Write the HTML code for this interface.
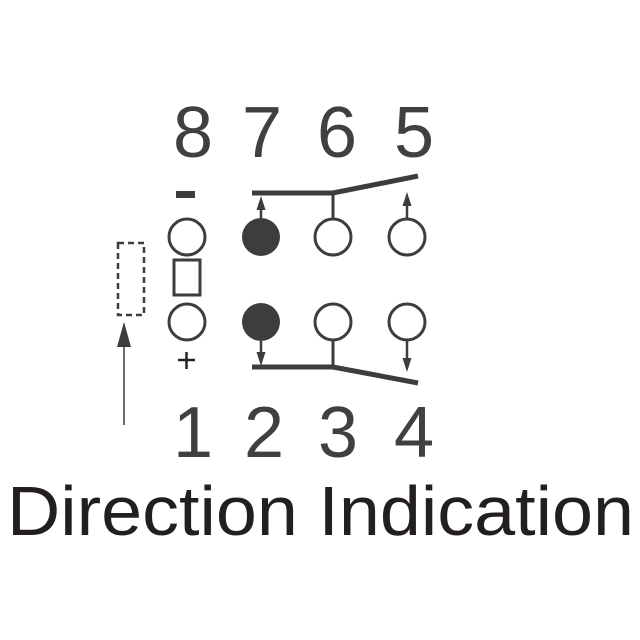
<!DOCTYPE html>
<html><head><style>html,body{margin:0;padding:0;background:#fff}svg{display:block}</style></head>
<body>
<svg width="640" height="640" viewBox="0 0 640 640" xmlns="http://www.w3.org/2000/svg">
<g font-family="Liberation Sans, sans-serif" font-size="72" fill="#404042" text-anchor="middle">
<text x="193" y="157">8</text><text x="262" y="157">7</text><text x="337" y="157">6</text><text x="414" y="157">5</text>
<text x="193" y="457">1</text><text x="264" y="457">2</text><text x="338" y="457">3</text><text x="414" y="457">4</text>
</g>
<text x="7" y="535" font-family="Liberation Sans, sans-serif" font-size="70" fill="#231f20" textLength="627" lengthAdjust="spacingAndGlyphs">Direction Indication</text>
<g stroke="#3d3d3f" fill="none">
<rect x="176" y="191" width="19" height="7" fill="#3d3d3f" stroke="none"/>
<circle cx="187" cy="237" r="18" stroke-width="3"/>
<circle cx="261" cy="237" r="19" fill="#3d3d3f" stroke="none"/>
<circle cx="333" cy="237" r="18" stroke-width="3"/>
<circle cx="407" cy="237" r="18" stroke-width="3"/>
<circle cx="187" cy="322" r="18" stroke-width="3"/>
<circle cx="261" cy="322" r="19" fill="#3d3d3f" stroke="none"/>
<circle cx="333" cy="322" r="18" stroke-width="3"/>
<circle cx="407" cy="322" r="18" stroke-width="3"/>
<rect x="174" y="260" width="26" height="35" stroke-width="3"/>
<rect x="118" y="243" width="26" height="72" stroke-width="2.5" stroke-dasharray="6,4"/>
<polyline points="252,193 333,193 418,176" stroke-width="5"/>
<polyline points="252,367 333,367 418,383" stroke-width="5"/>
<line x1="333" y1="193" x2="333" y2="219" stroke-width="3"/>
<line x1="333" y1="341" x2="333" y2="367" stroke-width="3"/>
<line x1="261" y1="218" x2="261" y2="205" stroke-width="2.5"/>
<line x1="407" y1="219" x2="407" y2="201" stroke-width="2.5"/>
<line x1="261" y1="341" x2="261" y2="357" stroke-width="2.5"/>
<line x1="407" y1="340" x2="407" y2="363" stroke-width="2.5"/>
<line x1="124" y1="425" x2="124" y2="324" stroke-width="1.5"/>
</g>
<g fill="#3d3d3f">
<path d="M261,196 L256.5,210 L265.5,210 Z"/>
<path d="M407,192 L402.5,206 L411.5,206 Z"/>
<path d="M261,366 L256.5,352 L265.5,352 Z"/>
<path d="M407,372 L402.5,358 L411.5,358 Z"/>
<path d="M124,322 L117,347 L131,347 Z"/>
</g>
<g stroke="#222" stroke-width="2.5">
<line x1="178" y1="360" x2="195" y2="360"/>
<line x1="186.5" y1="352" x2="186.5" y2="369"/>
</g>
</svg>
</body></html>
